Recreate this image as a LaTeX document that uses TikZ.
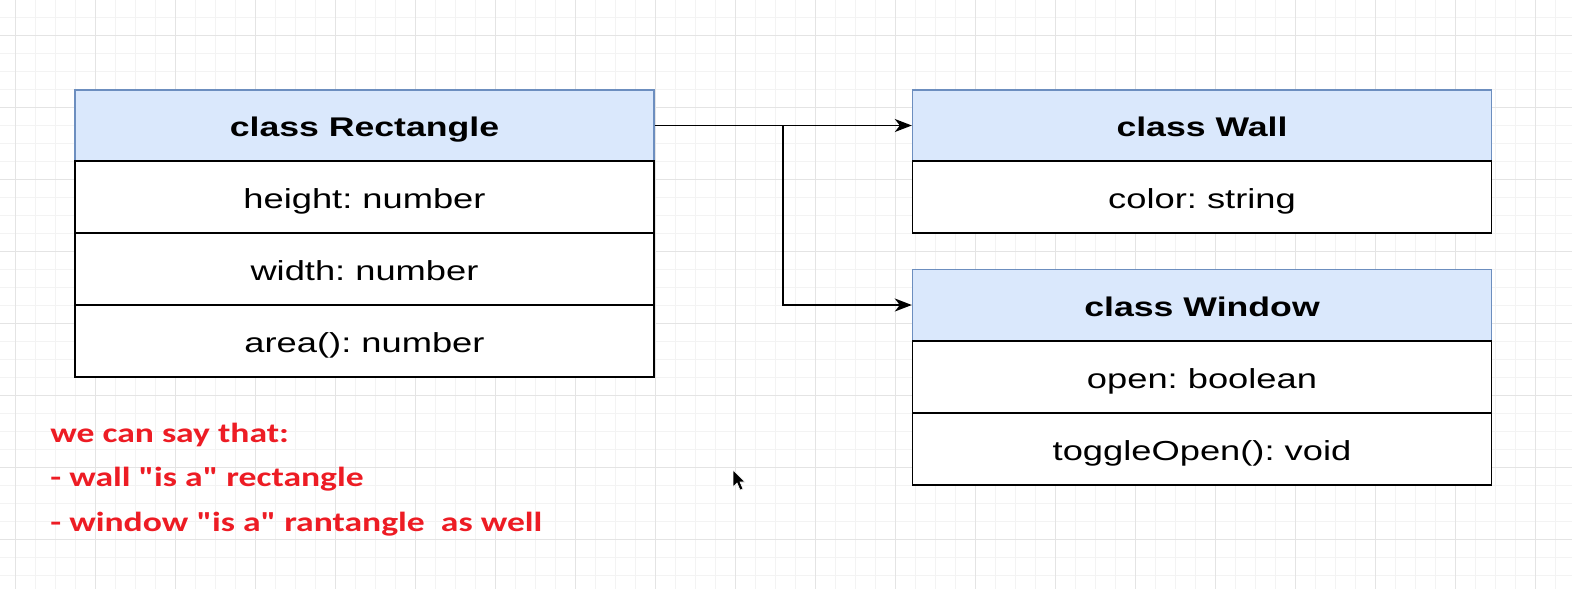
\documentclass[tikz,border=0pt]{standalone}
\usepackage{fontspec}
\setmainfont{Liberation Sans}[FakeStretch=1.32]
\newfontfamily\notefont{Carlito}[FakeStretch=1.29]
\usetikzlibrary{arrows.meta}
\definecolor{headblue}{HTML}{DAE8FC}
\definecolor{headline}{HTML}{6C8EBF}
\definecolor{notered}{HTML}{ED1C24}
\definecolor{gridminor}{HTML}{F3F3F3}
\definecolor{gridmajor}{HTML}{E4E4E4}
\frenchspacing
\begin{document}
\begin{tikzpicture}[x=0.5pt,y=-0.5pt,
    head/.style={draw=headline,fill=headblue,line width=.7pt,minimum width=289.5pt,minimum height=35.5pt,inner sep=0pt,text height=13pt,text depth=2pt,font=\fontsize{13.5}{16}\selectfont\bfseries},
    row/.style={draw=black,fill=white,line width=.7pt,minimum width=289.5pt,minimum height=36pt,inner sep=0pt,text height=13pt,text depth=2pt,font=\fontsize{13.75}{16}\selectfont},
    conn/.style={line width=.9pt,-{Stealth[length=8.5pt,width=6.5pt,inset=2.5pt]}}]
        % background grid
        \useasboundingbox (0,0) rectangle (1572,589);
        \fill [white] (0,0) rectangle (1572,589);
        \foreach \x in {-5,15,...,1575}
            \draw [gridminor,line width=.5pt] (\x,0) -- (\x,589);
        \foreach \y in {-1,17,...,593}
            \draw [gridminor,line width=.5pt] (0,\y) -- (1572,\y);
        \foreach \x in {15,95,...,1575}
            \draw [gridmajor,line width=.5pt] (\x,0) -- (\x,589);
        \foreach \y in {35,107,...,593}
            \draw [gridmajor,line width=.5pt] (0,\y) -- (1572,\y);
        % class Rectangle
        \node [head] (recthead) at (364.5,125.5) {class Rectangle};
        \node [row] (rectheight) at (364.5,197) {height: number};
        \node [row] (rectwidth) at (364.5,269) {width: number};
        \node [row] (rectarea) at (364.5,341) {area(): number};
        % class Wall
        \node [head] (wallhead) at (1202,125.5) {class Wall};
        \node [row] (wallcolor) at (1202,197) {color: string};
        % class Window
        \node [head] (winhead) at (1202,305) {class Window};
        \node [row] (winopen) at (1202,377) {open: boolean};
        \node [row] (wintoggle) at (1202,449) {toggleOpen(): void};
        % connectors
        \coordinate (split) at (783,125.5);
        \draw [conn] (recthead.east) -- (wallhead.west);
        \draw [conn] (split) |- (winhead.west);
        % note
        \node [anchor=base west,align=left,text=notered,inner sep=0pt,
            font=\notefont\fontsize{13.8}{22.2}\selectfont\bfseries] (note) at (50,531)
            {we can say that:\\- wall "is a" rectangle\\- window "is a" rantangle\ \ as well};
        % mouse pointer
        \draw [fill=black,draw=white,line width=.3pt] (733,470) -- (733,487) -- (737,483) -- (740,490) -- (743,489) -- (740,482) -- (745,482) -- cycle;
\end{tikzpicture}
\end{document}
